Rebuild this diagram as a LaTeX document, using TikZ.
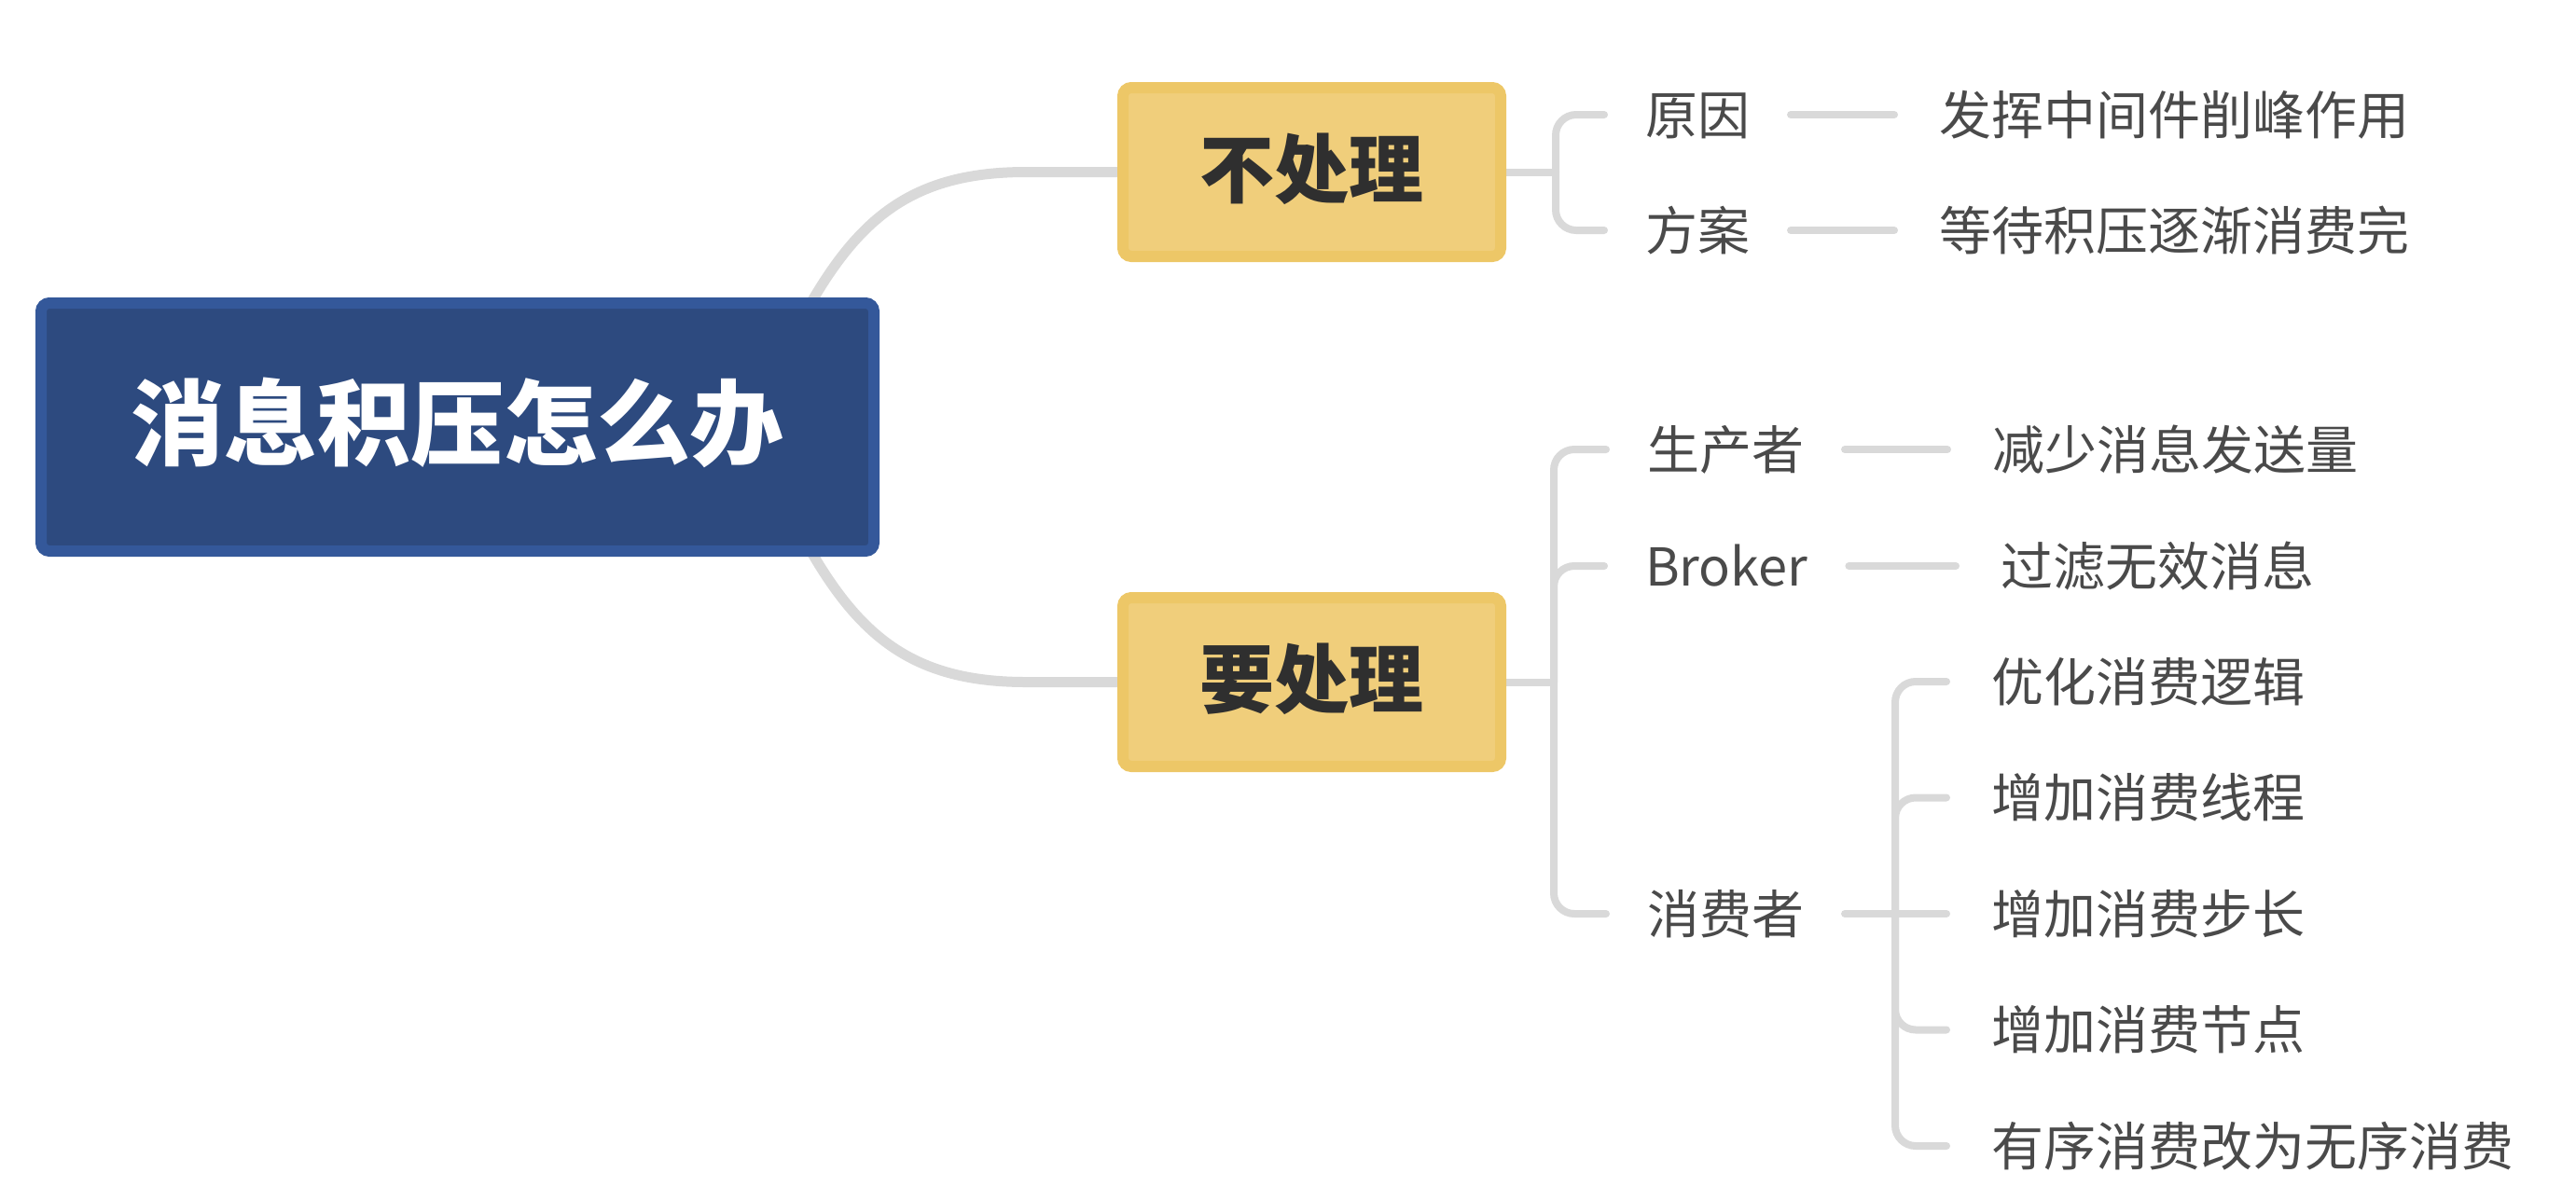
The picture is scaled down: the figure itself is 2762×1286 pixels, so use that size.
\documentclass[tikz,border=0pt]{standalone}
\usepackage{fontspec}
\setmainfont{Noto Sans CJK SC}
\usetikzlibrary{backgrounds}
\definecolor{rootfill}{HTML}{2D4A7F}
\definecolor{rootedge}{HTML}{34589A}
\definecolor{subfill}{HTML}{F0CE7B}
\definecolor{subedge}{HTML}{EDC767}
\definecolor{linegray}{HTML}{D9D9D9}
\definecolor{txtgray}{HTML}{4A4A4A}
\definecolor{boxtxt}{HTML}{2F2F2F}
\tikzset{
  rootbox/.style={draw=rootedge, fill=rootfill, line width=6pt, rounded corners=4.5pt,
    minimum width=446.5pt, minimum height=133pt, inner sep=0pt, text=white,
    font=\fontsize{50pt}{52pt}\selectfont\bfseries, text height=41.5pt, text depth=8.5pt},
  subbox/.style={draw=subedge, fill=subfill, line width=6pt, rounded corners=4.5pt,
    minimum width=202.5pt, minimum height=90.5pt, inner sep=0pt, text=boxtxt,
    font=\fontsize{40pt}{42pt}\selectfont\bfseries, text height=33.2pt, text depth=6.4pt},
  lbl/.style={anchor=west, inner sep=0pt, outer sep=0pt, text=txtgray,
    font=\fontsize{28pt}{30pt}\selectfont, text height=23.24pt, text depth=1.96pt},
  mainconn/.style={draw=linegray, line width=5.5pt, line cap=round},
  subconn/.style={draw=linegray, line width=4pt, line cap=round},
  pairconn/.style={subconn, shorten <=22pt, shorten >=24pt},
  armconn/.style={subconn, rounded corners=11pt, shorten >=22pt},
}
\begin{document}
\begin{tikzpicture}[x=0.5pt, y=-0.5pt]
\useasboundingbox (0,0) rectangle (2762,1286);

% main boxes
\node[rootbox] (root) at (490.5,458) {消息积压怎么办};
\node[subbox] (a) at (1406.5,184.5) {不处理};
\node[subbox] (b) at (1406.5,731.5) {要处理};

% junction coordinates
\coordinate (rc1) at (840,380);
\coordinate (rc2) at (840,536);
\coordinate (aj) at (1668,184.5);
\coordinate (bj) at (1666,731.5);
\coordinate (cj) at (2032,980);

% labels of branch 1
\node[lbl] (a1) at (1764,123) {原因};
\node[lbl] (a1v) at (2079,123) {发挥中间件削峰作用};
\node[lbl] (a2) at (1764,247) {方案};
\node[lbl] (a2v) at (2079,247) {等待积压逐渐消费完};

% labels of branch 2
\node[lbl] (b1) at (1766,482) {生产者};
\node[lbl] (b1v) at (2136,482) {减少消息发送量};
\node[lbl] (b2) at (1764,607) {Broker};
\node[lbl] (b2v) at (2145,607) {过滤无效消息};
\node[lbl] (b3) at (1766,980) {消费者};
\node[lbl] (c1) at (2135,731) {优化消费逻辑};
\node[lbl] (c2) at (2135,855.5) {增加消费线程};
\node[lbl] (c3) at (2135,980) {增加消费步长};
\node[lbl] (c4) at (2135,1104.5) {增加消费节点};
\node[lbl] (c5) at (2135,1229) {有序消费改为无序消费};

\begin{scope}[on background layer]
  \draw[mainconn] (rc1) .. controls (905,250) and (960,184.5) .. (1100,184.5) -- (a.west);
  \draw[mainconn] (rc2) .. controls (905,666) and (960,731.5) .. (1100,731.5) -- (b.west);

  \draw[subconn] (a.east) -- (aj);
  \draw[armconn] (aj) |- (a1.west);
  \draw[armconn] (aj) |- (a2.west);
  \draw[pairconn] (a1.east) -- (a1v.west);
  \draw[pairconn] (a2.east) -- (a2v.west);

  \draw[subconn] (b.east) -- (bj);
  \draw[armconn] (bj) |- (b1.west);
  \draw[armconn] (bj) |- (b2.west);
  \draw[armconn] (bj) |- (b3.west);
  \draw[pairconn] (b1.east) -- (b1v.west);
  \draw[pairconn] (b2.east) -- (b2v.west);

  \draw[subconn, shorten <=22pt] (b3.east) -- (cj);
  \draw[armconn, shorten >=24pt] (cj) |- (c1.west);
  \draw[armconn, shorten >=24pt] (cj) |- (c2.west);
  \draw[armconn, shorten >=24pt] (cj) -- (c3.west);
  \draw[armconn, shorten >=24pt] (cj) |- (c4.west);
  \draw[armconn, shorten >=24pt] (cj) |- (c5.west);
\end{scope}
\end{tikzpicture}
\end{document}
